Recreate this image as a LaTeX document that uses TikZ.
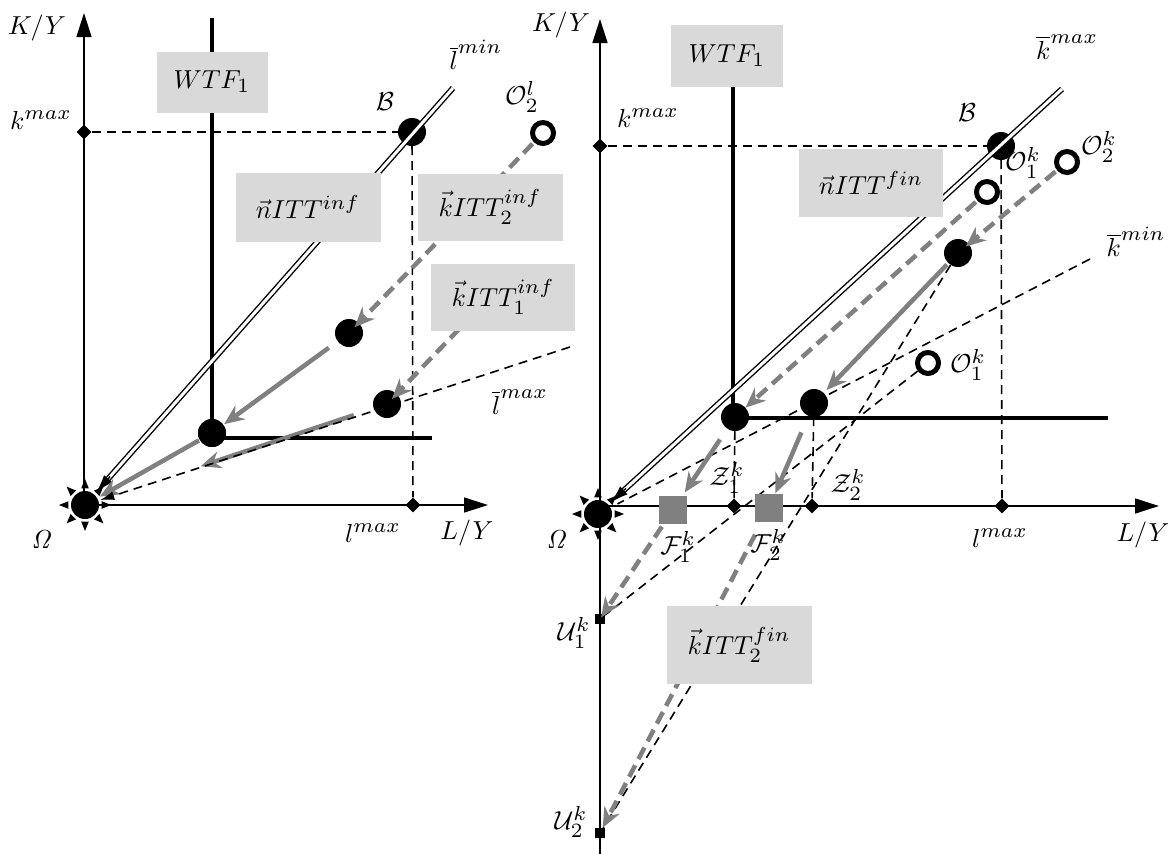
\RequirePackage{fix-cm}
\documentclass[tikz,border=0pt]{standalone}
\usetikzlibrary{arrows.meta,calc,shapes.geometric}
\DeclareMathSizes{10}{10}{7.8}{6}
\definecolor{gr}{HTML}{808080}
\definecolor{boxgray}{HTML}{D9D9D9}
\begin{document}
\begin{tikzpicture}[x=1pt,y=-1pt,
  axis/.style={line width=1.6pt,-{Triangle[length=24pt,width=15pt]}},
  thickl/.style={line width=4.5pt},
  dashb/.style={line width=1.6pt,dash pattern=on 9pt off 6pt},
  grayS/.style={draw=gr,line width=4.5pt,-{Stealth[length=20pt,width=17pt]}},
  grayD/.style={grayS,dash pattern=on 13pt off 7pt},
  dbl/.style={draw=black,double=white,double distance=3pt,line width=1.4pt},
  dbltip/.style={line width=1.4pt,-{Latex[length=18pt,width=11pt]}},
  dot/.style={circle,fill=black,inner sep=0pt,minimum size=28pt},
  ring/.style={circle,draw=black,line width=5pt,fill=white,inner sep=0pt,minimum size=21pt},
  diam/.style={diamond,fill=black,inner sep=0pt,minimum size=15pt},
  gsq/.style={rectangle,fill=gr,inner sep=0pt,minimum size=28pt},
  usq/.style={rectangle,fill=black,inner sep=0pt,minimum size=10pt},
  lab/.style={inner sep=0pt,font=\normalsize,scale=2.6},
  tbox/.style={rectangle,fill=boxgray,inner sep=0pt}
]
\useasboundingbox (0,0) rectangle (1168,854);

% ---------------- left panel ----------------
\coordinate (LO) at (84,505);
\coordinate (LYtop) at (84,13);
\coordinate (LXend) at (488,505);
\draw[axis] (LO) -- (LYtop);
\draw[axis] (LO) -- (LXend);

\node[diam] (Lkmax) at (84,132) {};
\node[diam] (Llmax) at (413,505) {};
\node[dot] (LB) at (412,132) {};
\node[dot] (Lom) at (85,505) {};
\node[dot] (LC) at (212,433) {};
\node[dot] (LD1) at (349,333) {};
\node[dot] (LD2) at (387,404) {};
\node[ring] (LOl) at (543,133) {};

\draw[dashb] (Lkmax) -- (LB);
\draw[dashb] (LB) -- (Llmax);

% WTF_1 boundary
\coordinate (LWtop) at (212,18);
\coordinate (LWend) at (432,438);
\draw[thickl] (LWtop) -- (LWtop |- LWend) -- (LWend);
\node[dot] at (LC) {};

% ray l-min
\coordinate (LlminEnd) at (453,88);
\draw[dbl] (LlminEnd) -- ($(Lom)!34pt!(LlminEnd)$);
\draw[dbltip] ($(Lom)!38pt!(LlminEnd)$) -- ($(Lom)!17pt!(LlminEnd)$);

% grey paths
\coordinate (LD2src) at (487,300);
\draw[grayS] ($(LC)!15pt!(Lom)$) -- ($(Lom)!17pt!(LC)$);
\draw[grayS] ($(LD1)!25pt!(LC)$) -- ($(LC)!15pt!(LD1)$);
\draw[grayD] ($(LOl)!15pt!(LD1)$) -- ($(LD1)!8pt!(LOl)$);
\draw[grayD] (LD2src) -- ($(LD2)!7pt!(LD2src)$);
\draw[grayS] ($(LD2)!35pt!(Lom)$) -- ($(Lom)!122pt!(LD2)$);

% ray l-max
\coordinate (LlmaxEnd) at (570,347);
\draw[dashb,-{Latex[length=14pt,width=9pt]}] (LlmaxEnd) -- ($(Lom)!16pt!(LlmaxEnd)$);

% origin marker
\foreach \a in {0,45,...,315}
  \fill ($(Lom)+(\a:26)$) -- ($(Lom)+(\a+13:17)$) -- ($(Lom)+(\a-13:17)$) -- cycle;

% boxes
\node[tbox,minimum width=111pt,minimum height=61pt] (LWTF) at (212,82) {};
\node[tbox,minimum width=145pt,minimum height=69pt] (LnITT) at (308,207) {};
\node[tbox,minimum width=145pt,minimum height=67pt] (LkITTb) at (490,207) {};
\node[tbox,minimum width=144pt,minimum height=67pt] (LkITTa) at (503,297) {};
\node[lab] at (LWTF) {$WTF_1$};
\node[lab] at (LnITT) {$\vec{n}ITT^{inf}$};
\node[lab] at (LkITTb) {$\vec{k}ITT_2^{inf}$};
\node[lab] at (LkITTa) {$\vec{k}ITT_1^{inf}$};

% labels
\node[lab] at (37,28) {$K/Y$};
\node[lab] at (41,120) {$k^{max}$};
\node[lab] at (385,102) {$\mathcal{B}$};
\node[lab] at (476,55) {$\overline{l}^{min}$};
\node[lab] at (522,97) {$\mathcal{O}_2^l$};
\node[lab] at (520,402) {$\overline{l}^{max}$};
\node[lab] at (373,533) {$l^{max}$};
\node[lab] at (467,533) {$L/Y$};
\node[lab] at (42,540) {$\mathit{\Omega}$};

% ---------------- right panel ----------------
\coordinate (RO) at (600,506);
\coordinate (RYtop) at (600,19);
\coordinate (RYbot) at (600,854);
\coordinate (RXend) at (1159,506);
\draw[axis] (RYbot) -- (RYtop);
\draw[axis] (RO) -- (RXend);

\node[diam] (Rkmax) at (600,146) {};
\node[dot] (RB) at (1001,146) {};
\node[diam] (Rlmax) at (1002,506) {};
\node[dot] (Rom) at (598,514) {};
\node[diam] (RZ1) at (734,506) {};
\node[diam] (RZ2) at (812,506) {};
\node[usq] (RU1) at (600,619) {};
\node[usq] (RU2) at (600,833) {};

\draw[dashb] (Rkmax) -- (RB);
\draw[dashb] (RB) -- (Rlmax);

% WTF_1 boundary
\coordinate (RWtop) at (733,80);
\coordinate (RWend) at (1108,418);
\draw[thickl] (RWtop) -- (RWtop |- RWend) -- (RWend);

\node[dot] (RC) at (735,417) {};
\node[dot] (RE2) at (814,403) {};
\node[dot] (RE1) at (958,253) {};
\node[ring] (RQ1) at (987,192) {};
\node[ring] (RQ2) at (1067,162) {};
\node[ring] (RQ3) at (928,363) {};

% construction lines
\coordinate (RkminEnd) at (1090,259);
\draw[dashb] (RkminEnd) -- ($(Rom)!22pt!(RkminEnd)$);
\draw[dashb] (RE1) -- (RU2);
\draw[dashb] (RQ3) -- (RU1);
\draw[dashb] (RC) -- (RZ1);
\draw[dashb] (RE2) -- (RZ2);

% ray k-max
\coordinate (RkmaxEnd) at (1062,89);
\draw[dbl] (RkmaxEnd) -- ($(Rom)!34pt!(RkmaxEnd)$);
\draw[dbltip] ($(Rom)!38pt!(RkmaxEnd)$) -- ($(Rom)!17pt!(RkmaxEnd)$);

\node[gsq] (RF1) at (673,510) {};
\node[gsq] (RF2) at (769,508) {};

% grey paths
\draw[grayD] ($(RQ1)!15pt!(RC)$) -- ($(RC)!14pt!(RQ1)$);
\draw[grayD] ($(RQ2)!15pt!(RE1)$) -- ($(RE1)!10pt!(RQ2)$);
\draw[grayS] ($(RE1)!16pt!(RE2)$) -- ($(RE2)!18pt!(RE1)$);
\draw[grayS] ($(RC)!27pt!(RF1)$) -- ($(RF1)!21pt!(RC)$);
\draw[grayS] ($(RE2)!32pt!(RF2)$) -- ($(RF2)!16pt!(RE2)$);
\draw[grayD] ($(RF1)!20pt!(RU1)$) -- ($(RU1)!2pt!(RF1)$);
\draw[grayD] ($(RF2)!30pt!(RU2)$) -- ($(RU2)!6pt!(RF2)$);

% origin marker
\foreach \a in {0,45,...,315}
  \fill ($(Rom)+(\a:26)$) -- ($(Rom)+(\a+13:17)$) -- ($(Rom)+(\a-13:17)$) -- cycle;

% boxes
\node[tbox,minimum width=112pt,minimum height=62pt] (RWTF) at (727,56) {};
\node[tbox,minimum width=144pt,minimum height=68pt] (RnITT) at (871,183) {};
\node[tbox,minimum width=145pt,minimum height=78pt] (RkITT) at (739,645) {};
\node[lab] at (RWTF) {$WTF_1$};
\node[lab] at (RnITT) {$\vec{n}ITT^{fin}$};
\node[lab] at (RkITT) {$\vec{k}ITT_2^{fin}$};

% labels
\node[lab] at (561,25) {$K/Y$};
\node[lab] at (648,118) {$k^{max}$};
\node[lab] at (967,113) {$\mathcal{B}$};
\node[lab] at (1067,47) {$\overline{k}^{max}$};
\node[lab] at (1136,242) {$\overline{k}^{min}$};
\node[lab] at (1023,163) {$\mathcal{O}_1^k$};
\node[lab] at (1099,147) {$\mathcal{O}_2^k$};
\node[lab] at (968,365) {$\mathcal{O}_1^k$};
\node[lab] at (727,478) {$\mathcal{Z}_1^k$};
\node[lab] at (848,485) {$\mathcal{Z}_2^k$};
\node[lab] at (678,547) {$\mathcal{F}_1^k$};
\node[lab] at (768,545) {$\mathcal{F}_2^k$};
\node[lab] at (1000,538) {$l^{max}$};
\node[lab] at (1143,535) {$L/Y$};
\node[lab] at (557,540) {$\mathit{\Omega}$};
\node[lab] at (574,633) {$\mathcal{U}_1^k$};
\node[lab] at (571,822) {$\mathcal{U}_2^k$};
\end{tikzpicture}
\end{document}
